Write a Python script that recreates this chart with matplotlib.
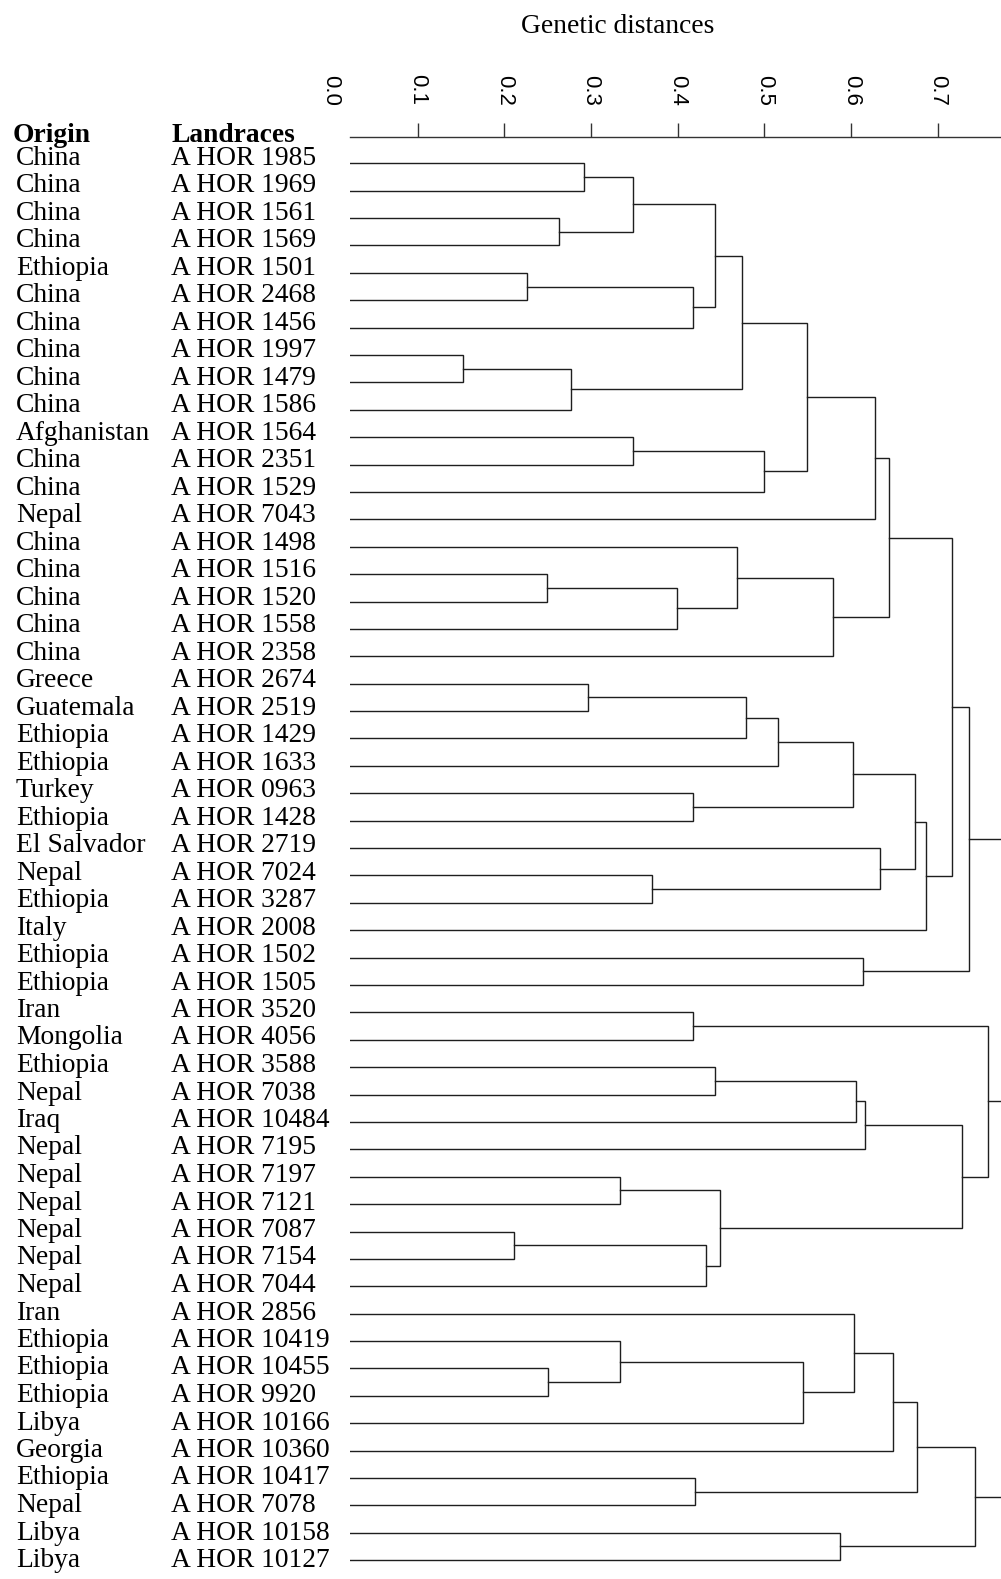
import matplotlib
matplotlib.use('Agg')
import matplotlib.pyplot as plt
import matplotlib.transforms as mtransforms

# leaves, top to bottom
origins = ['China', 'China', 'China', 'China', 'Ethiopia', 'China', 'China', 'China',
           'China', 'China', 'Afghanistan', 'China', 'China', 'Nepal', 'China', 'China',
           'China', 'China', 'China', 'Greece', 'Guatemala', 'Ethiopia', 'Ethiopia',
           'Turkey', 'Ethiopia', 'El Salvador', 'Nepal', 'Ethiopia', 'Italy', 'Ethiopia',
           'Ethiopia', 'Iran', 'Mongolia', 'Ethiopia', 'Nepal', 'Iraq', 'Nepal', 'Nepal',
           'Nepal', 'Nepal', 'Nepal', 'Nepal', 'Iran', 'Ethiopia', 'Ethiopia', 'Ethiopia',
           'Libya', 'Georgia', 'Ethiopia', 'Nepal', 'Libya', 'Libya']
landraces = ['1985', '1969', '1561', '1569', '1501', '2468', '1456', '1997', '1479', '1586',
             '1564', '2351', '1529', '7043', '1498', '1516', '1520', '1558', '2358', '2674',
             '2519', '1429', '1633', '0963', '1428', '2719', '7024', '3287', '2008', '1502',
             '1505', '3520', '4056', '3588', '7038', '10484', '7195', '7197', '7121', '7087',
             '7154', '7044', '2856', '10419', '10455', '9920', '10166', '10360', '10417',
             '7078', '10158', '10127']

# merges: (left, right, distance); ids < 52 are leaves, 52+k is merge k
merge_a = [0, 2, 52, 4, 55, 54, 7, 58, 57, 10, 61, 60, 63, 15, 65, 14, 67, 64,
           19, 70, 71, 23, 72, 26, 25, 74, 77, 69, 29, 79,
           31, 33, 83, 84, 37, 39, 87, 86, 85, 82,
           44, 43, 93, 42, 95, 48, 96, 50, 98,
           91, 81]
merge_b = [1, 3, 53, 5, 6, 56, 8, 9, 59, 11, 12, 62, 13, 16, 17, 66, 18, 68,
           20, 21, 22, 24, 73, 27, 75, 76, 28, 78, 30, 80,
           32, 34, 35, 36, 38, 40, 41, 88, 89, 90,
           45, 92, 46, 94, 47, 49, 97, 51, 99,
           100, 101]
merge_h = [0.292, 0.263, 0.349, 0.226, 0.418, 0.443, 0.152, 0.277, 0.474, 0.349,
           0.499, 0.549, 0.627, 0.249, 0.399, 0.468, 0.579, 0.644,
           0.297, 0.479, 0.516, 0.418, 0.602, 0.370, 0.633, 0.674, 0.686, 0.716,
           0.614, 0.736,
           0.418, 0.443, 0.605, 0.616, 0.333, 0.211, 0.433, 0.449, 0.728, 0.758,
           0.250, 0.333, 0.545, 0.603, 0.648, 0.420, 0.676, 0.587, 0.743,
           0.79, 0.82]  # last two lie beyond the right edge of the figure

ticks = [0.0, 0.1, 0.2, 0.3, 0.4, 0.5, 0.6, 0.7]

n = len(origins)
serif = 'Liberation Serif'
fs = 19.8

fig = plt.figure(figsize=(10.01, 15.79), dpi=100)
ax = fig.add_axes([350/1001, 0, 651/1001, 1 - 136.7/1579])

lc = '#1e1e1e'
pos = {}
for i in range(n):
    pos[i] = (float(i), 0.0)
for k in range(len(merge_h)):
    ya, ha = pos[merge_a[k]]
    yb, hb = pos[merge_b[k]]
    h = merge_h[k]
    ax.plot([ha, h, h, hb], [ya, ya, yb, yb], color=lc, lw=1.0, solid_joinstyle='miter')
    pos[n + k] = ((ya + yb) / 2, h)

# pixel mapping of the original scan
x_left = (350.5 - 331.3) / 866.7
x_right = (1001 - 331.3) / 866.7
ax.set_xlim(x_left, x_right)
row0, drow = 163.3, 27.39
ax.set_ylim((1579 - row0) / drow, (136.7 - row0) / drow)

for s in ['left', 'right', 'bottom']:
    ax.spines[s].set_visible(False)
ax.spines['top'].set_color('#333333')
ax.spines['top'].set_linewidth(1.0)
ax.set_yticks([])
ax.xaxis.tick_top()
ax.set_xticks([t for t in ticks if t > x_left])
ax.tick_params(axis='x', direction='out', length=10, width=1.0, color='#333333',
               labeltop=False, labelbottom=False)

for t in ticks:
    ax.annotate('%.1f' % t, xy=(t, 1), xycoords=('data', 'axes fraction'),
                xytext=(0, 22.5), textcoords='offset points', rotation=-90,
                ha='center', va='bottom', fontsize=16, family='Liberation Sans',
                annotation_clip=False)

fig.text(618/1001, 1 - 33.3/1579, 'Genetic distances', ha='center', va='baseline',
         fontsize=fs, family=serif)

tr = mtransforms.blended_transform_factory(fig.transFigure, ax.transData)
hdr = (141.7 - row0) / drow
ax.text(13/1001, hdr, 'Origin', transform=tr, ha='left', va='baseline',
        fontsize=fs, family=serif, fontweight='bold', clip_on=False)
ax.text(171/1001, hdr, 'Landraces', transform=tr, ha='left', va='baseline',
        fontsize=fs, family=serif, fontweight='bold', clip_on=False)
# label rows are spaced a little wider than the leaves (last row kept inside)
text_step = 27.5
for i in range(n):
    yt = (164.5 - row0 + i * text_step) / drow
    ax.text(16/1001, yt, origins[i], transform=tr, ha='left', va='baseline',
            fontsize=fs, family=serif, clip_on=False)
    ax.text(171/1001, yt, 'A HOR ' + landraces[i], transform=tr, ha='left',
            va='baseline', fontsize=fs, family=serif, clip_on=False)

fig.savefig('out.png', dpi=100)
